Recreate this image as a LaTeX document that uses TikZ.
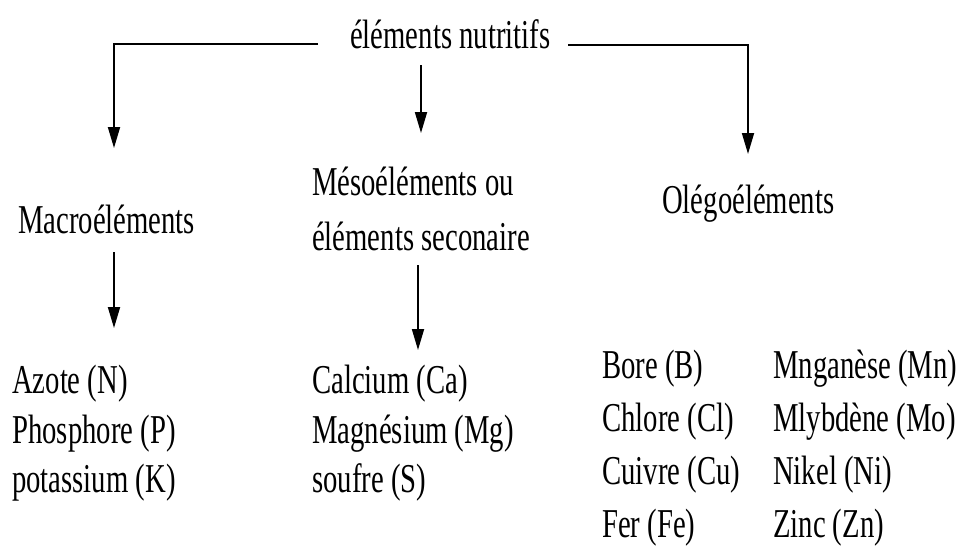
\documentclass[tikz,border=0pt]{standalone}
\usepackage{fontspec}
\setmainfont{Liberation Serif}[FakeStretch=0.70]
\usetikzlibrary{arrows.meta}
\begin{document}
\begin{tikzpicture}[x=1pt,y=-1pt,
  every node/.style={inner sep=0pt, anchor=base west, font=\fontsize{41}{46}\selectfont},
  conn/.style={line width=1.8pt, -{Triangle[length=21pt,width=12pt]}}]
\useasboundingbox[fill=white] (0,0) rectangle (957,552);
% title
\node (top) at (350,48) {éléments nutritifs};
% categories
\node (macro) at (18,233) {Macroéléments};
\node (meso1) at (312,195) {Mésoéléments ou};
\node (meso2) at (312,250) {éléments seconaire};
\node (oligo) at (662,213) {Olégoéléments};
% lists
\node (az) at (12,393) {Azote (N)};
\node (ph) at (12,443) {Phosphore (P)};
\node (po) at (12,492) {potassium (K)};
\node (ca) at (312,393) {Calcium (Ca)};
\node (mg) at (312,443) {Magnésium (Mg)};
\node (so) at (312,492) {soufre (S)};
\node (bo) at (602,378) {Bore (B)};
\node (cl) at (602,431) {Chlore (Cl)};
\node (cu) at (602,484) {Cuivre (Cu)};
\node (fe) at (602,537) {Fer (Fe)};
\node (mn) at (773,378) {Mnganèse (Mn)};
\node (mo) at (773,431) {Mlybdène (Mo)};
\node (ni) at (773,484) {Nikel (Ni)};
\node (zn) at (773,537) {Zinc (Zn)};
% connector points
\coordinate (lA) at (318,44);
\coordinate (lB) at (114,44);
\coordinate (tipL) at (114,148);
\coordinate (rA) at (568,45);
\coordinate (rB) at (748,45);
\coordinate (tipR) at (748,154);
\coordinate (mS) at (421,65);
\coordinate (tipM) at (421,133);
\coordinate (aS) at (114,252);
\coordinate (aT) at (114,328);
\coordinate (bS) at (418,265);
\coordinate (bT) at (418,350);
\draw[conn] (lA) -- (lB) -- (tipL);
\draw[conn] (rA) -- (rB) -- (tipR);
\draw[conn] (mS) -- (tipM);
\draw[conn] (aS) -- (aT);
\draw[conn] (bS) -- (bT);
\end{tikzpicture}
\end{document}
